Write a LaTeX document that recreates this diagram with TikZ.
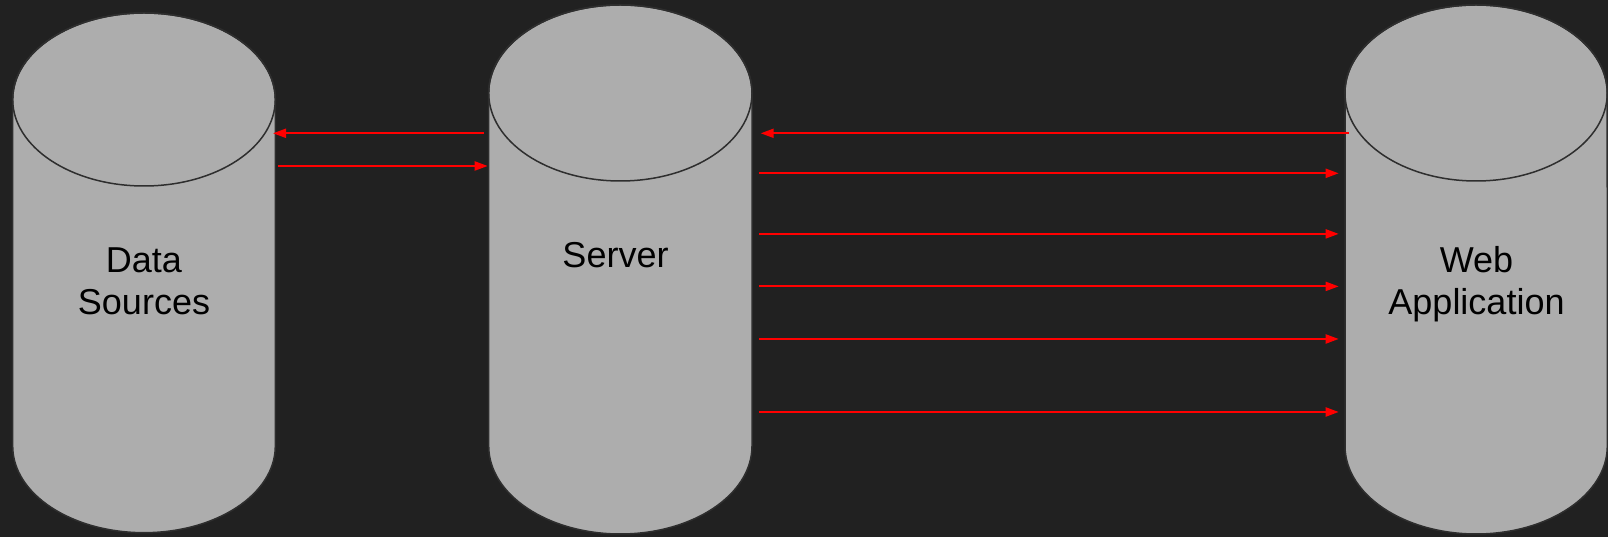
\documentclass[tikz,border=0pt]{standalone}
\usepackage{fontspec}
\setmainfont{Liberation Sans}
\usetikzlibrary{arrows.meta}
\definecolor{bgc}{HTML}{212121}
\definecolor{cylfill}{HTML}{ADADAD}
\definecolor{cylline}{HTML}{2E2E2E}
\definecolor{arrred}{HTML}{FF0000}
\newcommand{\lstrut}{\rule[-10pt]{0pt}{38pt}}
\tikzset{
  cylbody/.style={fill=cylfill, draw=cylline, line width=1.5pt},
  cyltop/.style={draw=cylline, line width=1.5pt},
  lbl/.style={font=\fontsize{36}{42}\selectfont, text=black, align=center, inner sep=0pt, anchor=center},
  arr/.style={draw=arrred, line width=2pt, -{Triangle[length=13pt,width=9pt]}}
}
\begin{document}
\begin{tikzpicture}[x=1pt,y=1pt]
\fill[bgc] (0,0) rectangle (1608,537);
\useasboundingbox (0,0) rectangle (1608,537);
% Data Sources cylinder
\draw[cylbody] (12.7,437.5) -- (12.7,90.8) arc[start angle=180, end angle=360, x radius=131.3, y radius=86.5] -- (275.3,437.5) arc[start angle=0, end angle=180, x radius=131.3, y radius=86.5] -- cycle;
\draw[cyltop] (144,437.5) ellipse[x radius=131.3, y radius=86.5];
% Server cylinder
\draw[cylbody] (488.7,444) -- (488.7,91) arc[start angle=180, end angle=360, x radius=131.65, y radius=88] -- (752,444) arc[start angle=0, end angle=180, x radius=131.65, y radius=88] -- cycle;
\draw[cyltop] (620.35,444) ellipse[x radius=131.65, y radius=88];
% Web Application cylinder
\draw[cylbody] (1345,444) -- (1345,91) arc[start angle=180, end angle=360, x radius=131.15, y radius=88] -- (1607.2,444) arc[start angle=0, end angle=180, x radius=131.15, y radius=88] -- cycle;
\draw[cyltop] (1476.1,444) ellipse[x radius=131.15, y radius=88];
% labels
\node[lbl] (ds) at (144,252.7) {\lstrut Data\\\lstrut Sources};
\node[lbl] (srv) at (615.5,278.3) {\lstrut Server};
\node[lbl] (web) at (1476.5,252.7) {\lstrut Web\\\lstrut Application};
% connector end points
\coordinate (s1) at (484,403.7);   \coordinate (d1) at (273,403.7);
\coordinate (d2) at (278,371);     \coordinate (s2) at (487.7,371);
\coordinate (w3) at (1349,403.7);  \coordinate (s3) at (760.7,403.7);
\coordinate (s4) at (759,363.7);   \coordinate (w4) at (1338.7,363.7);
\coordinate (s5) at (759,303.1);   \coordinate (w5) at (1338.7,303.1);
\coordinate (s6) at (759,250.6);   \coordinate (w6) at (1338.7,250.6);
\coordinate (s7) at (759,198);     \coordinate (w7) at (1338.7,198);
\coordinate (s8) at (759,125);     \coordinate (w8) at (1338.7,125);
% arrows
\draw[arr] (s1) -- (d1);
\draw[arr] (d2) -- (s2);
\draw[arr] (w3) -- (s3);
\draw[arr] (s4) -- (w4);
\draw[arr] (s5) -- (w5);
\draw[arr] (s6) -- (w6);
\draw[arr] (s7) -- (w7);
\draw[arr] (s8) -- (w8);
\end{tikzpicture}
\end{document}
